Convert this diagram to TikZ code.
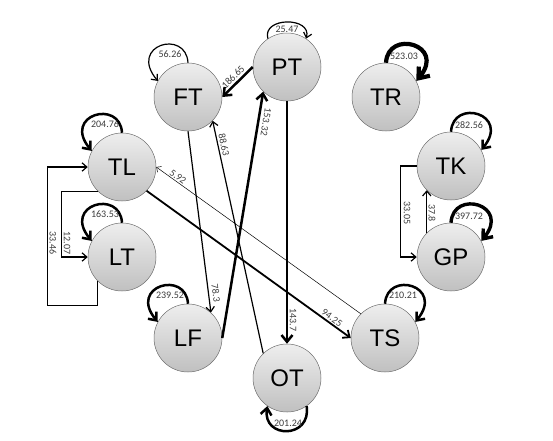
\documentclass[tikz,border=0pt]{standalone}
\usepackage{fontspec}
\setmainfont{Liberation Sans}
\newfontfamily\numfont{Carlito}
\usetikzlibrary{arrows.meta}
\definecolor{rimgray}{RGB}{110,110,110}
\definecolor{topgray}{RGB}{238,238,238}
\definecolor{botgray}{RGB}{192,192,192}
\definecolor{numgray}{RGB}{60,60,60}
\tikzset{state/.style={circle,minimum size=68pt,inner sep=0pt,draw=rimgray,line width=0.5pt,
           top color=topgray,bottom color=botgray,font=\fontsize{24}{24}\selectfont},
         elabel/.style={font=\numfont\fontsize{10}{11}\selectfont,text=numgray,inner sep=0pt}}
\tikzset{wthin/.style={->,line width=0.5pt},
         wnorm/.style={->,line width=1.2pt},
         wmid/.style={->,line width=1.8pt},
         wthick/.style={->,line width=2.5pt},
         wheavy/.style={->,line width=3.4pt},
         wmax/.style={->,line width=4.2pt}}

\begin{document}
\begin{tikzpicture}[x=1pt,y=-1pt,>={Straight Barb[length=3pt 1.5,width=6pt 2]}]
    \useasboundingbox (0,0) rectangle (553,440);
    \foreach \n/\x/\y in {PT/287/67,FT/188/97,TR/386/97,TL/122/167,TK/451/166,
                          LT/122/257,GP/451/257,LF/188/338,TS/385/338,OT/287/378}
        \node[state] (\n) at (\x,\y) {\n};
    % self loops
    \foreach \n/\w in {FT/wnorm,TL/wthick,LT/wthick,LF/wthick}
        \draw[\w] (\n.90) .. controls +(-2,-34) and +(-30,-36) .. (\n.152);
    \foreach \n/\w in {TR/wmax,TK/wthick,GP/wheavy,TS/wthick}
        \draw[\w] (\n.90) .. controls +(2,-34) and +(30,-36) .. (\n.28);
    \draw[wnorm]  (PT.124) .. controls +(-6,-22) and +(6,-22) .. (PT.56);
    \draw[wthick] (OT.-55) .. controls +(5,33) and +(-5,33) .. (OT.235);
    % straight edges
    \draw[wthick] (PT.west) -- (FT.east);
    \draw[wnorm]  (FT.south) -- (LF.48);
    \draw[wthick] (LF.east) -- (PT.226);
    \draw[wnorm]  (OT.134) -- (FT.-44);
    \draw[wthick] (PT.south) -- (OT.north);
    \draw[wmid]   (TL.-44) -- (TS.west);
    \draw[wthin]  (TS.135) -- (TL.east);
    \draw[wnorm]  (GP.135) -- (TK.225);
    % elbows
    \draw[wnorm] (TL.225) -- ++(-36,0) |- (LT.west);
    \draw[wnorm] (LT.225) |- ++(-50,24) |- (TL.west);
    \draw[wnorm] (TK.west) -- ++(-16,0) |- (GP.west);
    % weights
    \node[elabel] (wPT) at (287,29) {25.47};
    \node[elabel] (wFT) at (170,54) {56.26};
    \node[elabel] (wTL) at (105,124) {204.76};
    \node[elabel] (wLT) at (105,214) {163.53};
    \node[elabel] (wLF) at (170,295) {239.52};
    \node[elabel] (wTR) at (404,56) {523.03};
    \node[elabel] (wTK) at (469,125) {282.56};
    \node[elabel] (wGP) at (469,216) {397.72};
    \node[elabel] (wTS) at (403,295) {210.21};
    \node[elabel] (wOT) at (288,423) {201.24};
    \node[elabel,rotate=45]    (wPTFT) at (233,77)  {186.65};
    \node[elabel,rotate=-82.5] (wFTLF) at (216,293) {78.3};
    \node[elabel,rotate=-99.5] (wLFPT) at (266,122) {153.32};
    \node[elabel,rotate=-77.7] (wOTFT) at (224,145) {88.63};
    \node[elabel,rotate=-90]   (wPTOT) at (293,320) {143.7};
    \node[elabel,rotate=-35.8] (wTLTS) at (332,318) {94.25};
    \node[elabel,rotate=-35.6] (wTSTL) at (178,177) {5.92};
    \node[elabel,rotate=-90]   (wGPTK) at (432,213) {37.8};
    \node[elabel,rotate=-90]   (wTKGP) at (407,213) {33.05};
    \node[elabel,rotate=-90]   (wTLLT) at (67,243)  {12.07};
    \node[elabel,rotate=-90]   (wLTTL) at (53,243)  {33.46};
\end{tikzpicture}
\end{document}
